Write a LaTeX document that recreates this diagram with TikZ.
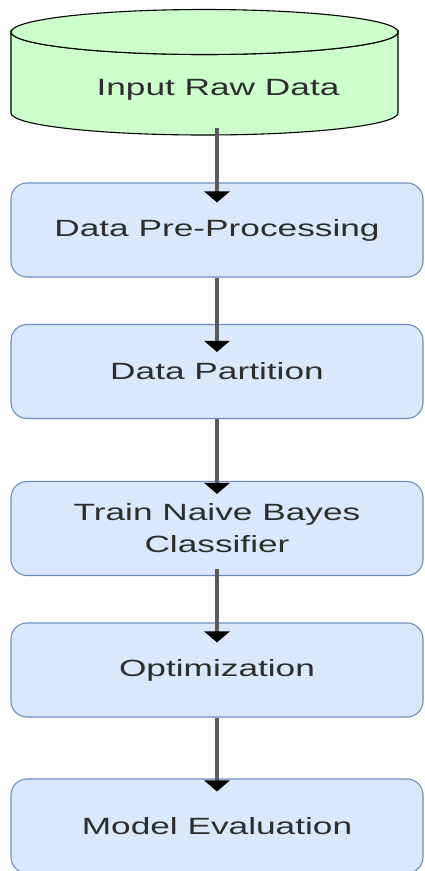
\documentclass[tikz,border=0pt]{standalone}
\usepackage{fontspec}
\setmainfont{Liberation Sans}[FakeStretch=1.5]
\usepackage{xcolor}
\usepackage{tikz}
\usetikzlibrary{arrows.meta, positioning}
\definecolor{myblue}{RGB}{108,142,191}
\definecolor{mydark}{RGB}{45,45,45}
\definecolor{myline}{RGB}{90,90,90}
\definecolor{hdrblue}{RGB}{218,232,252}
\definecolor{hdrgreen}{RGB}{204,255,204}
\tikzset{
  block/.style={rectangle, draw=myblue, fill=hdrblue,
    minimum width=412pt, minimum height=94pt, inner sep=0pt,
    align=center, font=\fontsize{23.5}{32}\selectfont, text=mydark,
    rounded corners=16pt, line width=1.1pt},
  drum/.style={draw=black, fill=hdrgreen, line width=1.1pt},
  flow/.style={draw=myline, line width=3.4pt,
    -{Triangle[length=11pt, width=25pt, color=black]}}
}

\begin{document}
\begin{tikzpicture}[x=1pt, y=-1pt]
  \useasboundingbox (0,0) rectangle (425,871);

  % Input data cylinder
  \draw[drum] (11,32) -- (11,113) arc[start angle=180, end angle=0, x radius=193.5, y radius=22]
    -- (398,32) arc[start angle=0, end angle=180, x radius=193.5, y radius=22.5] -- cycle;
  \draw[drum] (204.5,32) ellipse[x radius=193.5, y radius=22.5];
  \node[font=\fontsize{23.5}{32}\selectfont, text=mydark] (raw) at (218,90) {Input Raw Data};
  \coordinate (rawbot) at (217,128);

  % Process steps
  \node[block] (prep) at (217,230) {Data Pre-Processing};
  \node[block] (part) at (217,371.5) {Data Partition};
  \node[block] (train) at (217,528.5) {Train Naive Bayes\\Classifier};
  \node[block] (opt) at (217,670) {Optimization};
  \node[block] (eval) at (217,826) {Model Evaluation};

  % Arrows
  \draw[flow] (rawbot) -- ([yshift=-20pt]prep.north);
  \draw[flow] (prep.south) -- ([yshift=-28pt]part.north);
  \draw[flow] (part.south) -- ([yshift=-13pt]train.north);
  \draw[flow] ([yshift=7pt]train.south) -- ([yshift=-20pt]opt.north);
  \draw[flow] (opt.south) -- ([yshift=-13pt]eval.north);
\end{tikzpicture}
\end{document}
